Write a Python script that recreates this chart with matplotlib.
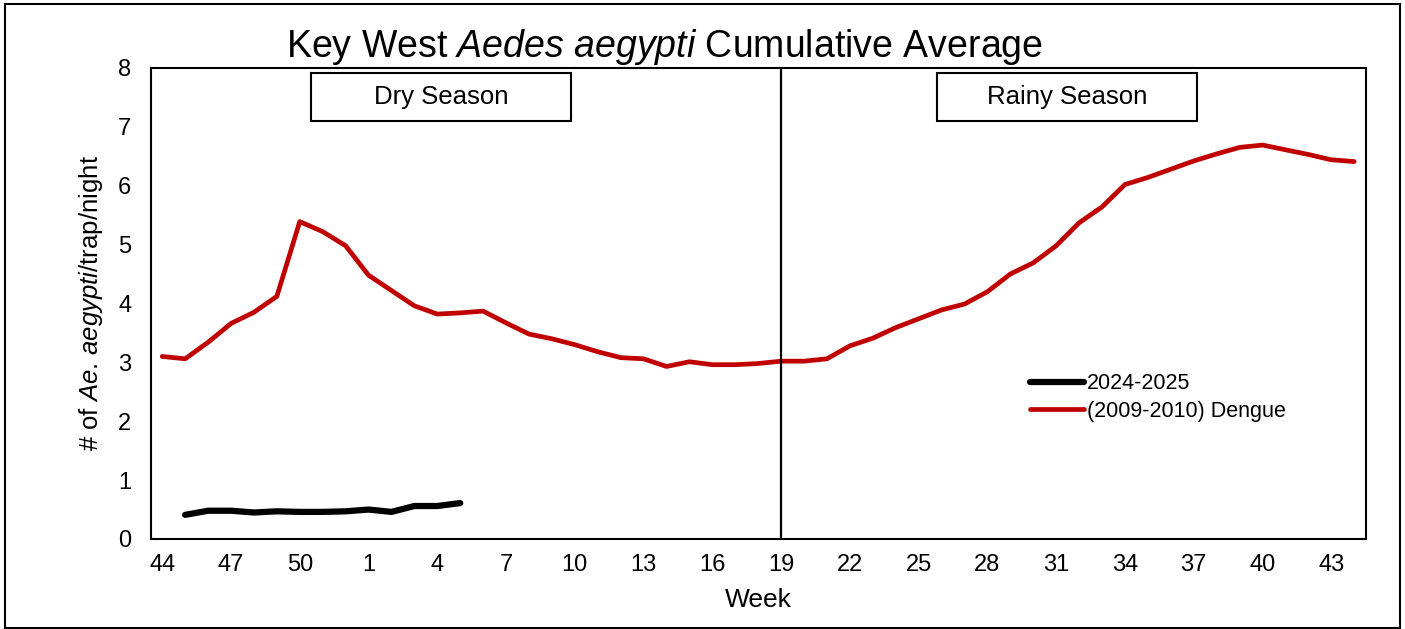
import matplotlib
matplotlib.use('Agg')
import matplotlib.pyplot as plt
from matplotlib.patches import Rectangle
import numpy as np

plt.rcParams['font.family'] = ['Liberation Sans', 'DejaVu Sans']
plt.rcParams['mathtext.fontset'] = 'custom'
plt.rcParams['mathtext.rm'] = 'Liberation Sans'
plt.rcParams['mathtext.it'] = 'Liberation Sans:italic'

# week categories along the x axis (week 44 of one year to week 44 of the next)
weeks = list(range(44, 53)) + list(range(1, 45))

# cumulative averages
dengue_0910 = [3.10, 3.06, 3.34, 3.66, 3.85, 4.12, 5.39, 5.22, 4.98,
               4.48, 4.22, 3.96, 3.82, 3.84, 3.87, 3.67, 3.48, 3.40, 3.30,
               3.18, 3.08, 3.06, 2.93, 3.01, 2.96, 2.96, 2.98, 3.02, 3.02,
               3.06, 3.28, 3.41, 3.59, 3.74, 3.89, 3.99, 4.20, 4.50, 4.69,
               4.98, 5.37, 5.64, 6.02, 6.14, 6.28, 6.42, 6.54, 6.65, 6.69,
               6.61, 6.53, 6.44, 6.41]
weeks_2425 = [45, 46, 47, 48, 49, 50, 51, 52, 1, 2, 3, 4, 5]
season_2425 = [0.41, 0.48, 0.48, 0.45, 0.47, 0.46, 0.46, 0.47, 0.50,
               0.46, 0.56, 0.56, 0.61]

tick_labels = [str(w) for w in weeks[::3]]
season_split_week = 19

fig = plt.figure(figsize=(14.05, 6.29), dpi=100)
ax = fig.add_axes([0.1073, 0.1431, 0.8647, 0.7489])

x_all = np.arange(len(weeks))
x_2425 = [weeks.index(w) for w in weeks_2425]

ax.plot(x_2425, season_2425, color='black', lw=4.5, solid_capstyle='round',
        label='2024-2025')
ax.plot(x_all, dengue_0910, color='#C00000', lw=3.4, solid_capstyle='round',
        label='(2009-2010) Dengue')

split_x = weeks.index(season_split_week, 9)
ax.axvline(split_x, color='black', lw=1.6)

ax.set_xlim(-0.5, 52.5)
ax.set_ylim(0, 8)
ax.set_xticks(x_all[::3])
ax.set_xticklabels(tick_labels)
ax.set_yticks(range(0, 9))
ax.tick_params(axis='both', length=0, labelsize=17)
ax.tick_params(axis='x', pad=11)
ax.tick_params(axis='y', pad=14)
for s in ax.spines.values():
    s.set_linewidth(1.5)

ax.set_xlabel('Week', fontsize=19)
ax.xaxis.set_label_coords(0.5, -0.105)
ax.set_ylabel(r'# of $\mathit{Ae.}\,\mathit{aegypti}$/trap/night', fontsize=18.5)
ax.yaxis.set_label_coords(-0.0376, 0.5)

# season boxes
for x0, x1, txt in [(0.132, 0.346, 'Dry Season'), (0.647, 0.861, 'Rainy Season')]:
    ax.add_patch(Rectangle((x0, 0.887), x1 - x0, 0.102, transform=ax.transAxes,
                           fill=True, facecolor='white', edgecolor='black', lw=1.5,
                           zorder=5))
    ax.text((x0 + x1) / 2, 0.938, txt, transform=ax.transAxes, ha='center',
            va='center', fontsize=18.5, zorder=6)

ax.legend(loc='upper left', bbox_to_anchor=(0.7237, 0.352), frameon=False,
          fontsize=15.5, handlelength=2.5, handletextpad=0.15, borderpad=0,
          borderaxespad=0, labelspacing=0.3)

fig.text(0.4733, 0.909, r'Key West $\mathit{Aedes}$ $\mathit{aegypti}$ Cumulative Average',
         ha='center', va='baseline', fontsize=27)

# outer frame
fig.patches.append(Rectangle((5 / 1405, 1 / 629), 1395 / 1405, 624 / 629,
                             transform=fig.transFigure, fill=False,
                             edgecolor='black', lw=1.5))

plt.savefig('out.png', dpi=100)
